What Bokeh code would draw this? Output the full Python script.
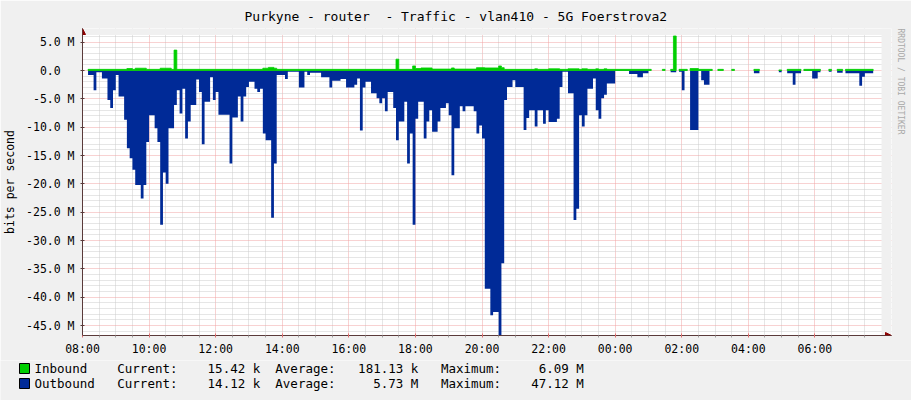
import math
from bokeh.plotting import figure
from bokeh.layouts import column
from bokeh.models import (Range1d, FixedTicker, Title, Arrow, NormalHead, BoxAnnotation)
from bokeh.core.properties import value
from bokeh.embed import file_html
from bokeh.resources import INLINE

NAN = float("nan")

# ---- data: minutes after 08:00, step values in Mbit/s (outbound drawn negative) ----
out_start = [10, 20, 25, 35, 45, 50, 55, 60, 65, 75, 80, 85, 90, 95, 105, 110, 115, 120, 130, 135,
             140, 145, 150, 155, 165, 170, 175, 180, 185, 190, 195, 205, 210, 215, 220, 230, 235, 240, 245, 265,
             270, 280, 285, 290, 295, 300, 310, 315, 320, 325, 330, 340, 345, 350, 365, 370, 390, 400, 405, 410,
             430, 445, 450, 465, 475, 490, 495, 500, 505, 510, 520, 530, 535, 540, 545, 550, 560, 565, 570, 580,
             585, 590, 595, 600, 605, 615, 620, 625, 630, 640, 645, 655, 660, 665, 670, 680, 685, 690, 705, 710,
             715, 720, 725, 735, 740, 750, 755, 760, 765, 775, 780, 795, 800, 805, 815, 820, 830, 835, 840, 855,
             860, 865, 875, 885, 890, 895, 900, 905, 910, 920, 925, 930, 935, 940, 945, 960, 985, 1000, 1010, 1020,
             1025, 1045, 1050, 1060, 1070, 1075, 1080, 1085, 1090, 1095, 1110, 1115, 1120, 1130, 1135, 1145, 1155, 1170, 1175, 1210,
             1220, 1255, 1260, 1270, 1280, 1285, 1295, 1300, 1315, 1325, 1330, 1345, 1350, 1360, 1370, 1375, 1400, 1405, 1410]
out_value = [-0.8, -3.5, -0.3, -1.4, -5.2, -6.6, -3.5, -0.8, -4.6, -8.7, -13.7, -15.5, -17.5, -20.2, -22.6, -20.2, -12.6, -7.9, -10.2, -12.6,
             -27.2, -18.0, -20.0, -10.2, -6.1, -3.5, -7.6, -3.2, -12.0, -9.0, -6.1, -1.6, -3.8, -13.0, -5.5, -1.2, -5.2, -3.8, -7.8, -16.4,
             -8.3, -4.6, -9.0, -4.6, -2.9, -2.0, -3.2, -3.8, -3.2, -11.1, -12.3, -26.0, -16.4, -0.8, -1.5, -0.2, -3.0, -0.2, -0.8, -0.4,
             -1.2, -3.0, -1.8, -1.5, -3.0, -2.5, -1.4, -10.6, -3.0, -2.0, -4.0, -4.9, -5.8, -4.9, -7.2, -3.8, -6.6, -12.3, -9.0, -5.5,
             -16.4, -11.1, -27.2, -8.5, -5.5, -12.0, -9.0, -7.0, -10.8, -9.0, -6.6, -5.8, -7.9, -18.5, -10.2, -6.3, -7.2, -6.3, -7.2, -11.1,
             -9.7, -12.0, -38.5, -43.2, -42.6, -47.12, -34.0, -5.2, -2.9, -1.7, -2.9, -10.5, -8.4, -7.0, -9.9, -7.0, -9.4, -7.0, -9.1, -8.5,
             -2.9, -0.2, -4.0, -26.4, -24.4, -7.9, -9.9, -7.9, -3.2, -1.4, -7.0, -8.5, -4.9, -4.3, -2.3, -0.1, -0.6, -1.2, -0.5, -0.05,
             NAN, -0.02, NAN, -0.3, NAN, -0.2, -3.5, -0.1, NAN, -10.5, -0.1, -1.7, -2.5, -0.05, NAN, -0.02, NAN, -0.02, NAN, -0.5,
             NAN, -0.3, NAN, -0.5, -2.5, -0.5, NAN, -0.1, -1.4, -0.3, NAN, -0.2, NAN, -0.4, NAN, -0.5, -2.7, -1.1, -0.5]
out_end = 1425

in_start = [10, 80, 90, 95, 115, 140, 160, 165, 170, 325, 335, 345, 350, 565, 570, 595, 600, 610, 630, 665,
            670, 710, 725, 750, 755, 760, 815, 820, 840, 860, 875, 895, 900, 910, 925, 930, 940, 945, 1025, 1045,
            1050, 1060, 1065, 1070, 1075, 1090, 1095, 1110, 1135, 1145, 1155, 1170, 1175, 1210, 1220, 1255, 1260, 1270, 1295, 1300,
            1330, 1345, 1350, 1360, 1370, 1375]
in_value = [0.2, 0.35, 0.2, 0.4, 0.2, 0.4, 0.2, 3.6, 0.2, 0.4, 0.55, 0.4, 0.2, 2.0, 0.2, 0.8, 0.35, 0.45, 0.25, 0.45,
            0.25, 0.5, 0.45, 0.8, 0.5, 0.2, 0.3, 0.2, 0.3, 0.2, 0.3, 0.2, 0.3, 0.2, 0.3, 0.2, 0.3, 0.2, NAN, 0.2,
            NAN, 0.2, 6.09, NAN, 0.2, NAN, 0.35, 0.2, NAN, 0.2, NAN, 0.2, NAN, 0.2, NAN, 0.1, NAN, 0.2, NAN, 0.2,
            NAN, 0.2, NAN, 0.2, NAN, 0.2]
in_end = 1425

x_tick_minutes = [0, 120, 240, 360, 480, 600, 720, 840, 960, 1080, 1200, 1320]
x_tick_labels = ["08:00", "10:00", "12:00", "14:00", "16:00", "18:00", "20:00", "22:00",
                 "00:00", "02:00", "04:00", "06:00"]
y_tick_values = [5, 0, -5, -10, -15, -20, -25, -30, -35, -40, -45]
y_tick_labels = ["5.0 M", "0.0  ", "-5.0 M", "-10.0 M", "-15.0 M", "-20.0 M", "-25.0 M",
                 "-30.0 M", "-35.0 M", "-40.0 M", "-45.0 M"]

legend_rows = ["Inbound    Current:    15.42 k  Average:   181.13 k   Maximum:     6.09 M",
               "Outbound   Current:    14.12 k  Average:     5.73 M   Maximum:    47.12 M"]
title_text = "Purkyne - router  - Traffic - vlan410 - 5G Foerstrova2"

GREEN = "#00CF00"
BLUE = "#002A97"
BG = "#F0F0F0"
AXIS = "#5A3A3A"
ARROW = "#8B0000"
FONT = "DejaVu Sans Mono"
NBSP = "\u00a0"
legend_colors = [GREEN, BLUE]

# ---- pixel geometry (layout only) ----
W, H_MAIN, H_LEG = 911, 360, 40
KX = 800.0 / 1440.0          # px per minute
KY = 5.667                   # px per Mbit/s
X0, Y0 = 81.0, 70.0          # pixel of (08:00, 0)
F_LEFT, F_RIGHT, F_TOP, F_BOT = 81, 891, 28, 335
x_hi = (F_RIGHT - X0) / KX
y_lo = -(F_BOT - Y0) / KY
y_hi = (Y0 - F_TOP) / KY
c_top = (Y0 - 34.4) / KY     # top of the white graph canvas
c_right = 1440


def keep_spaces(s):
    # SVG text collapses runs of spaces; keep the monospace column layout
    return s.replace(" ", NBSP)


def step_polys(starts, values, end):
    xs, ys = [], []
    cx, cy = None, None
    ends = list(starts[1:]) + [end]
    for s, e, v in zip(starts, ends, values):
        if v is None or math.isnan(v):
            if cx is not None:
                cx.append(cx[-1]); cy.append(0)
                xs.append(cx); ys.append(cy)
                cx, cy = None, None
            continue
        if cx is None:
            cx, cy = [s], [0]
        cx += [s, e]
        cy += [v, v]
    if cx is not None:
        cx.append(cx[-1]); cy.append(0)
        xs.append(cx); ys.append(cy)
    return xs, ys


p = figure(width=W, height=H_MAIN,
           min_border_left=F_LEFT, min_border_right=W - F_RIGHT,
           min_border_top=F_TOP, min_border_bottom=H_MAIN - F_BOT,
           x_range=Range1d(0, x_hi), y_range=Range1d(y_lo, y_hi),
           output_backend="svg", toolbar_location=None)
p.frame_align = False
p.background_fill_color = "#FFFFFF"
p.border_fill_color = BG
p.outline_line_color = None

p.title.text = title_text.replace("  ", " " + NBSP)
p.title.text_font = FONT
p.title.text_font_size = "13px"
p.title.text_font_style = "normal"
p.title.text_color = "#000000"
p.title.align = "left"
p.title.offset = 243 - F_LEFT
p.title.standoff = 10

minor_x = [m for m in range(0, 1441, 30) if m % 120 != 0]
xt = FixedTicker(ticks=x_tick_minutes, minor_ticks=minor_x)
minor_y = [v for v in range(-46, 7) if v % 5 != 0]
yt = FixedTicker(ticks=y_tick_values, minor_ticks=minor_y)
p.xaxis.ticker = xt
p.yaxis.ticker = yt
p.xgrid.ticker = xt
p.ygrid.ticker = yt
p.xaxis.major_label_overrides = {m: l for m, l in zip(x_tick_minutes, x_tick_labels)}
p.yaxis.major_label_overrides = {v: keep_spaces(l) for v, l in zip(y_tick_values, y_tick_labels)}

for g in (p.xgrid, p.ygrid):
    g.grid_line_color = "#F0A4A4"
    g.grid_line_dash = "1 1"
    g.minor_grid_line_color = "#CDCDCD"
    g.minor_grid_line_dash = "1 1"

for ax in (p.xaxis, p.yaxis):
    ax.axis_line_color = AXIS
    ax.major_tick_line_color = AXIS
    ax.major_tick_in = 2
    ax.major_tick_out = 2
    ax.minor_tick_line_color = None
    ax.major_label_text_font = FONT
    ax.major_label_text_font_size = "11.5px"
    ax.major_label_text_color = "#000000"
    ax.major_label_standoff = 4
p.xaxis.major_tick_line_color = "#E07070"
p.xaxis.minor_tick_line_color = "#A0A0A0"
p.xaxis.minor_tick_out = 2
p.xaxis.minor_tick_in = 0
p.yaxis.axis_label = "bits per second"
p.yaxis.axis_label_text_font = FONT
p.yaxis.axis_label_text_font_size = "11.5px"
p.yaxis.axis_label_text_font_style = "normal"
p.yaxis.axis_label_text_color = "#000000"
p.yaxis.axis_label_standoff = 6

# background strips above / right of the graph canvas (hide the grid there)
for kw in (dict(left=c_right), dict(bottom=c_top)):
    p.add_layout(BoxAnnotation(fill_color=BG, fill_alpha=1, line_color=None, level="underlay", **kw))

oxs, oys = step_polys(out_start, out_value, out_end)
p.patches(oxs, oys, fill_color=BLUE, line_color=None)
ixs, iys = step_polys(in_start, in_value, in_end)
p.patches(ixs, iys, fill_color=GREEN, line_color=GREEN, line_width=0.8)

p.add_layout(Arrow(end=NormalHead(size=6, fill_color=ARROW, line_color=ARROW, line_width=1),
                   x_start=0, y_start=c_top, x_end=0, y_end=y_hi,
                   line_color=AXIS, line_width=1))
p.add_layout(Arrow(end=NormalHead(size=6, fill_color=ARROW, line_color=ARROW, line_width=1),
                   x_start=c_right, y_start=y_lo, x_end=x_hi, y_end=y_lo,
                   line_color=AXIS, line_width=1))

p.add_layout(Title(text="RRDTOOL / TOBI OETIKER", text_font=FONT, text_font_size="8px",
                   text_font_style="normal", text_color="#A8A8A8", align="left", standoff=8), "right")

# ---- legend strip (pixel coordinates of the lower part of the image) ----
leg = figure(width=W, height=H_LEG, x_range=Range1d(0, W), y_range=Range1d(H_MAIN + H_LEG, H_MAIN),
             min_border=0, x_axis_location=None, y_axis_location=None,
             output_backend="svg", toolbar_location=None)
leg.frame_align = False
leg.background_fill_color = BG
leg.border_fill_color = BG
leg.outline_line_color = None
leg.xgrid.visible = False
leg.ygrid.visible = False
row_y = [368, 383]
leg.rect(x=[24, 24], y=row_y, width=10, height=10, fill_color=legend_colors,
         line_color="#000000", line_width=1)
leg.text(x=[34, 34], y=row_y, text=[keep_spaces(s) for s in legend_rows],
         text_font=value(FONT), text_font_size="12.5px", text_baseline="middle",
         text_align="left", text_color="#000000")

layout = column(p, leg, spacing=0)
open("out.html", "w").write(file_html(layout, INLINE))
